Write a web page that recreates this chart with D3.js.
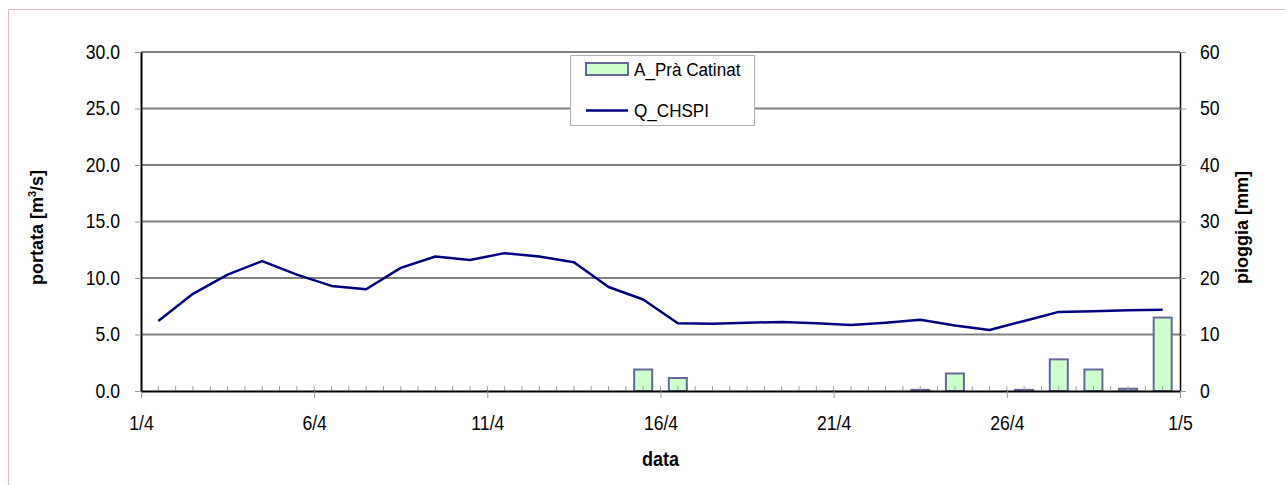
<!DOCTYPE html>
<html>
<head>
<meta charset="utf-8">
<script src="https://cdn.jsdelivr.net/npm/d3@7"></script>
<style>
  body { margin: 0; background: #fff; }
  svg { display: block; font-family: "Liberation Sans", Arial, sans-serif; }
</style>
</head>
<body>
<div id="chart"></div>
<script>
// giorni di aprile (valori giornalieri, centrati a mezzogiorno)
const giorni = [1, 2, 3, 4, 5, 6, 7, 8, 9, 10, 11, 12, 13, 14, 15,
                16, 17, 18, 19, 20, 21, 22, 23, 24, 25, 26, 27, 28, 29, 30];

// portata Q_CHSPI [m3/s]
const portata = [6.2, 8.6, 10.3, 11.5, 10.3, 9.3, 9.0, 10.9, 11.9, 11.6,
                 12.2, 11.9, 11.4, 9.2, 8.1, 6.0, 5.95, 6.05, 6.1, 6.0,
                 5.85, 6.05, 6.3, 5.8, 5.4, 6.2, 7.0, 7.05, 7.15, 7.2];

// pioggia A_Prà Catinat [mm]
const pioggia = [0, 0, 0, 0, 0, 0, 0, 0, 0, 0,
                 0, 0, 0, 0, 3.8, 2.3, 0, 0, 0, 0,
                 0, 0, 0.2, 3.1, 0, 0.2, 5.6, 3.8, 0.4, 13.0];

const tickDate = [[4, 1], [4, 6], [4, 11], [4, 16], [4, 21], [4, 26], [5, 1]];
const tickLabel = ['1/4', '6/4', '11/4', '16/4', '21/4', '26/4', '1/5'];

const W = 1285, H = 485;
const margin = {top: 52, right: 105, bottom: 94, left: 141};
const width = W - margin.left - margin.right;
const height = H - margin.top - margin.bottom;

// il font originale e' un po' stretto in orizzontale
const sx = 0.88;

const day = (m, d, h) => new Date(Date.UTC(2008, m - 1, d, h || 0));

const svg = d3.select('#chart').append('svg')
    .attr('width', W)
    .attr('height', H);

// bordo esterno
svg.append('rect')
    .attr('x', 8.5).attr('y', 9.5)
    .attr('width', W).attr('height', H)
    .attr('fill', 'none')
    .attr('stroke', '#dcbcbc');

const g = svg.append('g')
    .attr('transform', 'translate(' + margin.left + ',' + margin.top + ')');

const x = d3.scaleUtc().domain([day(4, 1), day(5, 1)]).range([0, width]);
const yQ = d3.scaleLinear().domain([0, 30]).range([height, 0]);
const yP = d3.scaleLinear().domain([0, 60]).range([height, 0]);

// griglia
g.append('g')
    .selectAll('line')
    .data(yQ.ticks(6).filter((d) => d > 0))
    .enter().append('line')
    .attr('x1', 0).attr('x2', width)
    .attr('y1', (d) => yQ(d)).attr('y2', (d) => yQ(d))
    .attr('stroke', '#808080')
    .attr('stroke-width', 2);

// barre pioggia
const barW = 18;
g.append('g')
    .selectAll('rect')
    .data(giorni.map((d, i) => ({d: d, v: pioggia[i]})).filter((d) => d.v > 0))
    .enter().append('rect')
    .attr('x', (d) => x(day(4, d.d, 12)) - barW / 2)
    .attr('y', (d) => yP(d.v))
    .attr('width', barW)
    .attr('height', (d) => height - yP(d.v))
    .attr('fill', '#ccffcc')
    .attr('stroke', '#666699')
    .attr('stroke-width', 2);

// linea portata
const line = d3.line()
    .x((d) => x(day(4, d.d, 12)))
    .y((d) => yQ(d.v));

g.append('path')
    .datum(giorni.map((d, i) => ({d: d, v: portata[i]})))
    .attr('d', line)
    .attr('fill', 'none')
    .attr('stroke', '#000080')
    .attr('stroke-width', 2.5)
    .attr('stroke-linejoin', 'round');

// tacche minori asse x (ogni 12 ore)
g.append('g')
    .selectAll('line')
    .data(d3.utcHour.every(12).range(day(4, 1, 12), day(5, 1)))
    .enter().append('line')
    .attr('x1', (d) => x(d)).attr('x2', (d) => x(d))
    .attr('y1', height - 5).attr('y2', height)
    .attr('stroke', '#a0a0a0')
    .attr('stroke-width', 1);

// asse x
const xAxis = g.append('g')
    .attr('transform', 'translate(0,' + height + ')')
    .call(d3.axisBottom(x)
        .tickValues(tickDate.map((d) => day(d[0], d[1])))
        .tickFormat((d, i) => tickLabel[i])
        .tickSizeInner(7).tickSizeOuter(0).tickPadding(18));
xAxis.select('.domain').attr('stroke', '#000').attr('stroke-width', 2);
xAxis.selectAll('.tick line').attr('stroke', '#999');
xAxis.selectAll('text').attr('font-size', 20).attr('fill', '#000')
    .attr('transform', 'scale(' + sx + ',1)');

// asse y sinistro
const yAxisL = g.append('g')
    .call(d3.axisLeft(yQ).ticks(6).tickFormat(d3.format('.1f'))
        .tickSizeInner(6).tickSizeOuter(0).tickPadding(21 / sx - 6));
yAxisL.select('.domain').attr('stroke', '#000').attr('stroke-width', 2);
yAxisL.selectAll('.tick line').attr('stroke', '#999');
yAxisL.selectAll('text').attr('font-size', 20).attr('fill', '#000')
    .attr('transform', 'scale(' + sx + ',1)');

// asse y destro
const yAxisR = g.append('g')
    .attr('transform', 'translate(' + width + ',0)')
    .call(d3.axisRight(yP).ticks(6)
        .tickSizeInner(6).tickSizeOuter(0).tickPadding(20 / sx - 6));
yAxisR.select('.domain').attr('stroke', '#000').attr('stroke-width', 1.5);
yAxisR.selectAll('.tick line').attr('stroke', '#999');
yAxisR.selectAll('text').attr('font-size', 20).attr('fill', '#000')
    .attr('transform', 'scale(' + sx + ',1)');

// titoli assi
svg.append('text')
    .attr('transform', 'translate(' + (margin.left + width / 2) + ',466) scale(0.9,1)')
    .attr('text-anchor', 'middle')
    .attr('font-size', 20).attr('font-weight', 'bold')
    .text('data');

const tL = svg.append('text')
    .attr('transform', 'translate(43,' + (margin.top + height / 2 + 6) + ') rotate(-90)')
    .attr('text-anchor', 'middle')
    .attr('font-size', 18).attr('font-weight', 'bold');
tL.append('tspan').text('portata [m');
tL.append('tspan').attr('font-size', 11).attr('dy', -7).text('3');
tL.append('tspan').attr('dy', 7).text('/s]');

svg.append('text')
    .attr('transform', 'translate(1248,' + (margin.top + height / 2 + 6) + ') rotate(-90)')
    .attr('text-anchor', 'middle')
    .attr('font-size', 18).attr('font-weight', 'bold')
    .text('pioggia [mm]');

// legenda
const leg = svg.append('g').attr('transform', 'translate(570,55)');
leg.append('rect')
    .attr('x', 0.5).attr('y', 0.5)
    .attr('width', 184).attr('height', 70)
    .attr('fill', '#fff')
    .attr('stroke', '#b0b0b0');
leg.append('rect')
    .attr('x', 16).attr('y', 8)
    .attr('width', 42).attr('height', 12)
    .attr('fill', '#ccffcc')
    .attr('stroke', '#666699')
    .attr('stroke-width', 2);
leg.append('text')
    .attr('transform', 'translate(64,21) scale(0.9,1)')
    .attr('font-size', 19)
    .text('A_Prà Catinat');
leg.append('line')
    .attr('x1', 16).attr('x2', 58)
    .attr('y1', 55.5).attr('y2', 55.5)
    .attr('stroke', '#000080')
    .attr('stroke-width', 2.5);
leg.append('text')
    .attr('transform', 'translate(64,62) scale(0.9,1)')
    .attr('font-size', 19)
    .text('Q_CHSPI');
</script>
</body>
</html>
